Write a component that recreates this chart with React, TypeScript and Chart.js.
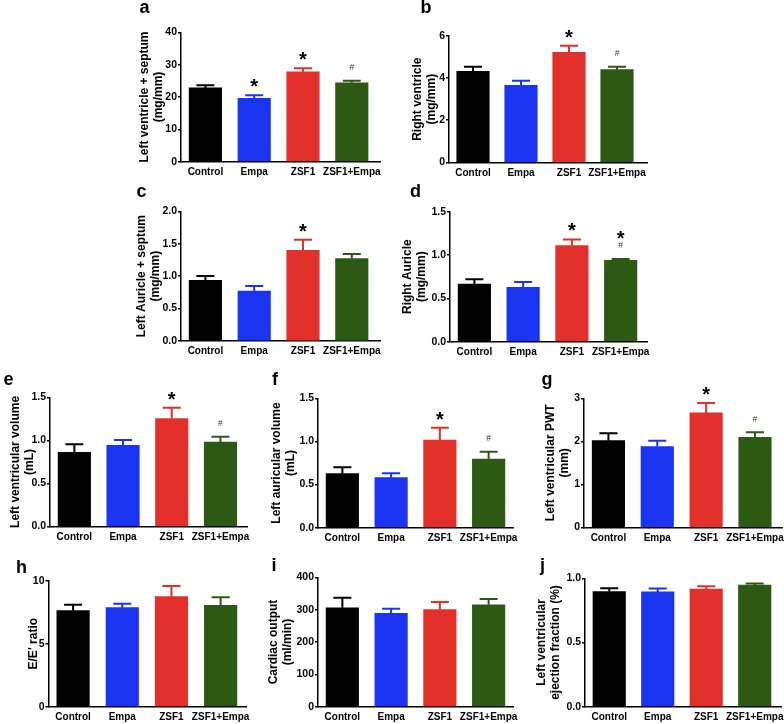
import React, { useEffect, useRef } from 'react';
import { Chart, registerables } from 'chart.js';

Chart.register(...registerables);
Chart.defaults.font.family = "'Liberation Sans', Arial, Helvetica, sans-serif";

// ---------- data ----------
const groups = ['Control', 'Empa', 'ZSF1', 'ZSF1+Empa'];
const barColors = ['#000000', '#1b34f2', '#e4302a', '#2c5a14'];

const lvSeptumMean = [22.8, 19.6, 27.8, 24.4];
const lvSeptumSem = [0.8, 0.95, 1.1, 0.65];
const lvSeptumMarks = ['', '*', '*', '#'];

const rvMean = [4.32, 3.66, 5.22, 4.4];
const rvSem = [0.22, 0.22, 0.32, 0.14];
const rvMarks = ['', '', '*', '#'];

const laSeptumMean = [0.936, 0.77, 1.4, 1.27];
const laSeptumSem = [0.065, 0.08, 0.16, 0.07];
const laSeptumMarks = ['', '', '*', ''];

const raMean = [0.665, 0.627, 1.11, 0.94];
const raSem = [0.055, 0.063, 0.07, 0.015];
const raMarks = ['', '', '*', '*#'];

const lvVolMean = [0.86, 0.942, 1.252, 0.979];
const lvVolSem = [0.095, 0.062, 0.128, 0.064];
const lvVolMarks = ['', '', '*', '#'];

const laVolMean = [0.626, 0.58, 1.017, 0.796];
const laVolSem = [0.074, 0.05, 0.143, 0.084];
const laVolMarks = ['', '', '*', '#'];

const pwtMean = [2.015, 1.88, 2.66, 2.09];
const pwtSem = [0.175, 0.13, 0.23, 0.12];
const pwtMarks = ['', '', '*', '#'];

const eeMean = [7.62, 7.86, 8.73, 8.04];
const eeSem = [0.48, 0.31, 0.85, 0.64];
const eeMarks = ['', '', '', ''];

const coMean = [306, 289, 300, 315];
const coSem = [31, 14, 24, 18];
const coMarks = ['', '', '', ''];

const efMean = [0.896, 0.894, 0.917, 0.948];
const efSem = [0.026, 0.026, 0.021, 0.012];
const efMarks = ['', '', '', ''];

// ---------- layout ----------
const CW = 800;
const CH = 740;
const X_H = 20;
const TITLE_SIZE = 12;
const TITLE_LH = 1.15;
const TITLE_PX = TITLE_SIZE * TITLE_LH;

type Panel = {
  letter: string; lx: number; ly: number;
  title: string | string[]; titleX: number;
  mean: number[]; sem: number[]; marks: string[];
  yMax: number; yStep: number; dec: number;
  L: number; T: number; B: number; R: number; xMax: number;
};

const panels: Panel[] = [
  { letter: 'a', lx: 139.5, ly: 13, title: ['Left ventricle + septum', '(mg/mm)'], titleX: 145,
    mean: lvSeptumMean, sem: lvSeptumSem, marks: lvSeptumMarks, yMax: 40, yStep: 10, dec: 0,
    L: 181, T: 32.3, B: 161.7, R: 380, xMax: 3.578 },
  { letter: 'b', lx: 420.5, ly: 13, title: ['Right ventricle', '(mg/mm)'], titleX: 418,
    mean: rvMean, sem: rvSem, marks: rvMarks, yMax: 6, yStep: 2, dec: 0,
    L: 449, T: 36, B: 162.3, R: 647, xMax: 3.625 },
  { letter: 'c', lx: 136.5, ly: 197, title: ['Left Auricle + septum', '(mg/mm)'], titleX: 142,
    mean: laSeptumMean, sem: laSeptumSem, marks: laSeptumMarks, yMax: 2, yStep: 0.5, dec: 1,
    L: 181, T: 211.3, B: 341, R: 380, xMax: 3.578 },
  { letter: 'd', lx: 410, ly: 197, title: ['Right Auricle', '(mg/mm)'], titleX: 408,
    mean: raMean, sem: raSem, marks: raMarks, yMax: 1.5, yStep: 0.5, dec: 1,
    L: 450, T: 211.7, B: 341.7, R: 647, xMax: 3.54 },
  { letter: 'e', lx: 3.5, ly: 385, title: ['Left ventricular volume', '(mL)'], titleX: 16,
    mean: lvVolMean, sem: lvVolSem, marks: lvVolMarks, yMax: 1.5, yStep: 0.5, dec: 1,
    L: 50, T: 397.3, B: 526.5, R: 247, xMax: 3.545 },
  { letter: 'f', lx: 272, ly: 385, title: ['Left auricular volume', '(mL)'], titleX: 277,
    mean: laVolMean, sem: laVolSem, marks: laVolMarks, yMax: 1.5, yStep: 0.5, dec: 1,
    L: 318, T: 398.3, B: 527.7, R: 513, xMax: 3.5 },
  { letter: 'g', lx: 541.5, ly: 385, title: ['Left ventricular PWT', '(mm)'], titleX: 551,
    mean: pwtMean, sem: pwtSem, marks: pwtMarks, yMax: 3, yStep: 1, dec: 0,
    L: 584, T: 398.3, B: 527.3, R: 782, xMax: 3.553 },
  { letter: 'h', lx: 16, ly: 573, title: "E/E' ratio", titleX: 34,
    mean: eeMean, sem: eeSem, marks: eeMarks, yMax: 10, yStep: 5, dec: 0,
    L: 48.5, T: 580.7, B: 706.7, R: 246.7, xMax: 3.53 },
  { letter: 'i', lx: 271.5, ly: 571, title: ['Cardiac output', '(ml/min)'], titleX: 274,
    mean: coMean, sem: coSem, marks: coMarks, yMax: 400, yStep: 100, dec: 0,
    L: 318, T: 577.3, B: 706.7, R: 513, xMax: 3.5 },
  { letter: 'j', lx: 540, ly: 571, title: ['Left ventricular', 'ejection fraction (%)'], titleX: 542,
    mean: efMean, sem: efSem, marks: efMarks, yMax: 1, yStep: 0.5, dec: 1,
    L: 585, T: 578.3, B: 706.7, R: 781.7, xMax: 3.557 },
];

function overlayPlugin(p: Panel) {
  return {
    id: 'overlay' + p.letter,
    afterDatasetsDraw(chart: any) {
      const ctx = chart.ctx;
      const ys = chart.scales.y;
      const meta = chart.getDatasetMeta(0);
      meta.data.forEach((el: any, i: number) => {
        const top = ys.getPixelForValue(p.mean[i] + p.sem[i]);
        ctx.save();
        ctx.strokeStyle = barColors[i];
        ctx.lineWidth = 2;
        ctx.beginPath();
        ctx.moveTo(el.x, el.y);
        ctx.lineTo(el.x, top);
        ctx.moveTo(el.x - 9, top);
        ctx.lineTo(el.x + 9, top);
        ctx.stroke();
        const m = p.marks[i];
        if (m) {
          const chars = m.split('');
          let center = top - 13.5;
          for (let k = chars.length - 1; k >= 0; k--) {
            const c = chars[k];
            ctx.textAlign = 'center';
            ctx.textBaseline = 'alphabetic';
            if (c === '*') {
              ctx.font = "bold 20px 'Liberation Sans', Arial, sans-serif";
              ctx.fillStyle = '#000';
              ctx.fillText('*', el.x, center + 11.4);
            } else {
              ctx.font = "8.5px 'Liberation Sans', Arial, sans-serif";
              ctx.fillStyle = '#333';
              ctx.fillText(c, el.x, center + 3);
            }
            center -= 12;
          }
        }
        ctx.restore();
      });
    },
    afterDraw(chart: any) {
      const ctx = chart.ctx;
      ctx.save();
      ctx.font = "bold 18px 'Liberation Sans', Arial, sans-serif";
      ctx.fillStyle = '#000';
      ctx.textAlign = 'left';
      ctx.textBaseline = 'alphabetic';
      ctx.fillText(p.letter, p.lx, p.ly);
      ctx.restore();
    },
  };
}

function PanelChart({ p }: { p: Panel }) {
  const ref = useRef<HTMLCanvasElement>(null);
  useEffect(() => {
    const canvas = ref.current as HTMLCanvasElement;
    const padLeft = p.titleX - TITLE_PX / 2;
    const yW = p.L - padLeft;
    const chart = new Chart(canvas, {
      type: 'bar',
      data: {
        datasets: [
          {
            data: p.mean.map((v, i) => ({ x: i, y: v })) as any,
            backgroundColor: barColors,
            barThickness: 32.5,
            borderWidth: 0,
          },
        ],
      },
      options: {
        animation: false,
        responsive: false,
        devicePixelRatio: 1,
        events: [],
        layout: {
          padding: { left: padLeft, top: p.T, right: CW - p.R, bottom: CH - p.B - X_H },
        },
        plugins: {
          legend: { display: false },
          tooltip: { enabled: false },
          title: { display: false },
        },
        scales: {
          x: {
            type: 'linear',
            min: -0.5,
            max: p.xMax,
            offset: false,
            afterBuildTicks: (s: any) => {
              s.ticks = groups.map((_, i) => ({ value: i }));
            },
            afterFit: (s: any) => {
              s.height = X_H;
            },
            grid: { display: false, drawTicks: false },
            border: { display: true, color: '#000', width: 1.5 },
            ticks: {
              callback: (v: any) => groups[v],
              font: { size: 10, weight: 'bold' },
              color: '#000',
              padding: 4.5,
              maxRotation: 0,
              autoSkip: false,
            },
          },
          y: {
            min: 0,
            max: p.yMax,
            afterFit: (s: any) => {
              s.width = yW;
            },
            grid: { drawOnChartArea: false, tickLength: 3, color: '#000', lineWidth: 1.5 },
            border: { display: true, color: '#000', width: 1.5 },
            ticks: {
              stepSize: p.yStep,
              callback: (v: any) => Number(v).toFixed(p.dec),
              font: { size: 10.5, weight: 'bold' },
              color: '#000',
              padding: 1,
            },
            title: {
              display: true,
              text: p.title,
              font: { size: TITLE_SIZE, weight: 'bold', lineHeight: TITLE_LH },
              color: '#000',
              padding: 0,
            },
          },
        },
      } as any,
      plugins: [overlayPlugin(p)],
    });
    return () => chart.destroy();
  }, []);
  return (
    <canvas
      ref={ref}
      width={CW}
      height={CH}
      style={{ position: 'absolute', left: 0, top: 0, width: CW, height: CH }}
    />
  );
}

export default function App() {
  return (
    <div
      style={{
        position: 'absolute',
        left: 0,
        top: 0,
        width: 784,
        height: 724,
        overflow: 'hidden',
        background: '#ffffff',
      }}
    >
      {panels.map((p) => (
        <PanelChart key={p.letter} p={p} />
      ))}
    </div>
  );
}
